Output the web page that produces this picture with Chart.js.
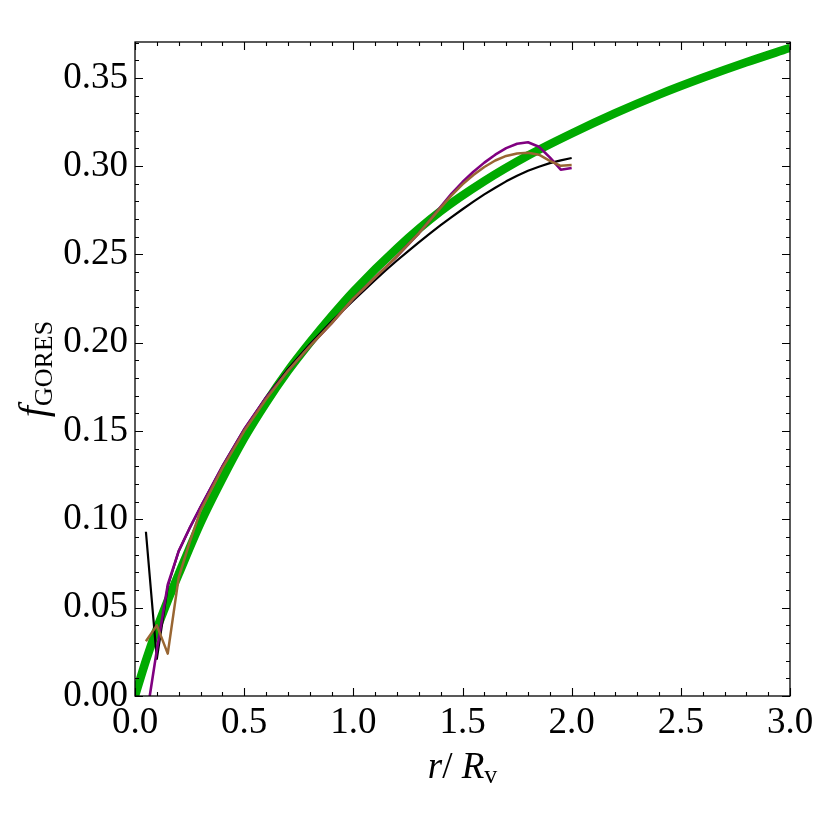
<!DOCTYPE html>
<html>
<head>
<meta charset="utf-8">
<script src="https://cdn.jsdelivr.net/npm/chart.js@4/dist/chart.umd.min.js"></script>
<style>
  html, body { margin: 0; padding: 0; background: #fff; }
  #wrap { width: 830px; height: 830px; }
</style>
</head>
<body>
<div id="wrap"><canvas id="chart" width="830" height="830"></canvas></div>
<script>
// values
const greenR = [0, 0.05, 0.1, 0.15, 0.2, 0.3, 0.4, 0.5, 0.6, 0.7, 0.8, 0.9, 1.0, 1.2, 1.4, 1.6, 1.8, 2.0, 2.2, 2.4, 2.6, 2.8, 3.0];
const greenF = [0, 0.020, 0.038, 0.054, 0.069, 0.098, 0.123, 0.146, 0.166, 0.184, 0.200, 0.215, 0.229, 0.2535, 0.2745, 0.2915, 0.306, 0.3185, 0.330, 0.3405, 0.350, 0.3588, 0.367];

const blackR = [0.05, 0.1, 0.15, 0.2, 0.25, 0.3, 0.4, 0.5, 0.6, 0.7, 0.8, 0.9, 1.0, 1.05, 1.1, 1.15, 1.2, 1.25, 1.3, 1.35, 1.4, 1.45, 1.5, 1.55, 1.6, 1.65, 1.7, 1.75, 1.8, 1.85, 1.9, 1.95, 2.0];
const blackF = [0.093, 0.021, 0.062, 0.082, 0.095, 0.107, 0.130, 0.151, 0.169, 0.185, 0.199, 0.212, 0.224, 0.2298, 0.2356, 0.2412, 0.2466, 0.2518, 0.2569, 0.2618, 0.2666, 0.2712, 0.2756, 0.2799, 0.284, 0.2878, 0.2914, 0.2946, 0.2974, 0.2997, 0.3017, 0.3033, 0.3046];

const purpleR = [0.05, 0.1, 0.15, 0.2, 0.25, 0.3, 0.4, 0.5, 0.6, 0.7, 0.8, 0.9, 1.0, 1.05, 1.1, 1.15, 1.2, 1.25, 1.3, 1.35, 1.4, 1.45, 1.5, 1.55, 1.6, 1.65, 1.7, 1.75, 1.8, 1.85, 1.9, 1.95, 2.0];
const purpleF = [-0.014, 0.026, 0.063, 0.082, 0.095, 0.107, 0.130, 0.151, 0.169, 0.184, 0.198, 0.211, 0.225, 0.231, 0.237, 0.243, 0.249, 0.2555, 0.262, 0.2693, 0.277, 0.2845, 0.291, 0.2968, 0.302, 0.3065, 0.3102, 0.3127, 0.3135, 0.311, 0.305, 0.298, 0.299];

const brownR = [0.05, 0.1, 0.15, 0.2, 0.25, 0.3, 0.4, 0.5, 0.6, 0.7, 0.8, 0.9, 1.0, 1.05, 1.1, 1.15, 1.2, 1.25, 1.3, 1.35, 1.4, 1.45, 1.5, 1.55, 1.6, 1.65, 1.7, 1.75, 1.8, 1.85, 1.9, 1.95, 2.0];
const brownF = [0.031, 0.040, 0.024, 0.067, 0.087, 0.105, 0.129, 0.150, 0.168, 0.184, 0.198, 0.211, 0.225, 0.231, 0.237, 0.243, 0.249, 0.2555, 0.262, 0.2692, 0.2765, 0.2835, 0.2897, 0.295, 0.2995, 0.3032, 0.3058, 0.3072, 0.3076, 0.3065, 0.303, 0.3002, 0.3006];

const xTicks = [0, 0.5, 1.0, 1.5, 2.0, 2.5, 3.0];
const yTicks = [0, 0.05, 0.10, 0.15, 0.20, 0.25, 0.30, 0.35];

const SERIF = '"Liberation Serif", "DejaVu Serif", serif';

function pts(xs, ys) {
    return xs.map((x, i) => ({ x: x, y: ys[i] }));
}

// frame with inward ticks on all four sides, plus the axis titles
const framePlugin = {
    id: 'frame',
    afterDraw(chart) {
        const ctx = chart.ctx;
        const a = chart.chartArea;
        const xs = chart.scales.x, ys = chart.scales.y;
        ctx.save();
        ctx.strokeStyle = '#000';
        ctx.lineWidth = 1.3;
        ctx.strokeRect(a.left, a.top, a.right - a.left, a.bottom - a.top);

        ctx.lineWidth = 1.1;
        ctx.beginPath();
        for (let i = 0; i <= 30; i++) {
            const v = i / 10;
            const len = (i % 5 === 0) ? 8 : 4;
            const px = Math.round(xs.getPixelForValue(v)) + 0.5;
            ctx.moveTo(px, a.bottom); ctx.lineTo(px, a.bottom - len);
            ctx.moveTo(px, a.top); ctx.lineTo(px, a.top + len);
        }
        for (let i = 0; i <= 37; i++) {
            const v = i / 100;
            const len = (i % 5 === 0) ? 8 : 4;
            const py = Math.round(ys.getPixelForValue(v)) + 0.5;
            ctx.moveTo(a.left, py); ctx.lineTo(a.left + len, py);
            ctx.moveTo(a.right, py); ctx.lineTo(a.right - len, py);
        }
        ctx.stroke();

        // x title:  r/ R_v
        ctx.fillStyle = '#000';
        ctx.textBaseline = 'alphabetic';
        ctx.textAlign = 'left';
        const big = 37, small = 26;
        const parts = [
            { t: 'r', f: 'italic ' + big + 'px ' + SERIF, dy: 0 },
            { t: '/ ', f: big + 'px ' + SERIF, dy: 0 },
            { t: 'R', f: 'italic ' + big + 'px ' + SERIF, dy: 0 },
            { t: 'v', f: small + 'px ' + SERIF, dy: 5 }
        ];
        let total = 0;
        parts.forEach(p => { ctx.font = p.f; p.w = ctx.measureText(p.t).width; total += p.w; });
        let cx = (a.left + a.right) / 2 - total / 2;
        const base = 778;
        parts.forEach(p => { ctx.font = p.f; ctx.fillText(p.t, cx, base + p.dy); cx += p.w; });

        // y title: f_GORES, rotated
        ctx.save();
        ctx.translate(46, (a.top + a.bottom) / 2);
        ctx.rotate(-Math.PI / 2);
        const yparts = [
            { t: 'f', f: 'italic ' + (big + 3) + 'px ' + SERIF, dy: 0 },
            { t: 'GORES', f: small + 'px ' + SERIF, dy: 6 }
        ];
        total = 0;
        yparts.forEach(p => { ctx.font = p.f; p.w = ctx.measureText(p.t).width; total += p.w; });
        cx = -total / 2;
        yparts.forEach(p => { ctx.font = p.f; ctx.fillText(p.t, cx, p.dy); cx += p.w; });
        ctx.restore();

        ctx.restore();
    }
};

function lineSet(data, color, width, order) {
    return {
        data: data,
        borderColor: color,
        borderWidth: width,
        pointRadius: 0,
        showLine: true,
        fill: false,
        tension: 0,
        borderJoinStyle: 'round',
        borderCapStyle: 'butt',
        order: order
    };
}

const greenSet = lineSet(pts(greenR, greenF), 'rgb(0,170,0)', 8.5, 4);
greenSet.cubicInterpolationMode = 'monotone';

new Chart(document.getElementById('chart').getContext('2d'), {
    type: 'scatter',
    data: {
        datasets: [
            greenSet,
            lineSet(pts(blackR, blackF), '#000000', 2.2, 3),
            lineSet(pts(purpleR, purpleF), 'rgb(128,0,128)', 2.6, 2),
            lineSet(pts(brownR, brownF), 'rgb(153,102,51)', 2.5, 1)
        ]
    },
    options: {
        responsive: false,
        animation: false,
        layout: { padding: { left: 0, top: 42, right: 40, bottom: 0 } },
        plugins: {
            legend: { display: false },
            tooltip: { enabled: false }
        },
        scales: {
            x: {
                type: 'linear',
                min: 0, max: 3.0,
                grid: { display: false, drawTicks: false },
                border: { display: false },
                afterBuildTicks(scale) { scale.ticks = xTicks.map(v => ({ value: v })); },
                afterFit(scale) { scale.height = 134; },
                ticks: {
                    color: '#000',
                    padding: 5,
                    maxRotation: 0,
                    autoSkip: false,
                    font: { family: SERIF, size: 37 },
                    callback: v => v.toFixed(1)
                }
            },
            y: {
                type: 'linear',
                min: 0, max: 0.3703,
                grid: { display: false, drawTicks: false },
                border: { display: false },
                afterBuildTicks(scale) { scale.ticks = yTicks.map(v => ({ value: v })); },
                afterFit(scale) { scale.width = 135; },
                ticks: {
                    color: '#000',
                    padding: 7,
                    autoSkip: false,
                    font: { family: SERIF, size: 37 },
                    callback: v => v.toFixed(2)
                }
            }
        }
    },
    plugins: [framePlugin]
});
</script>
</body>
</html>
